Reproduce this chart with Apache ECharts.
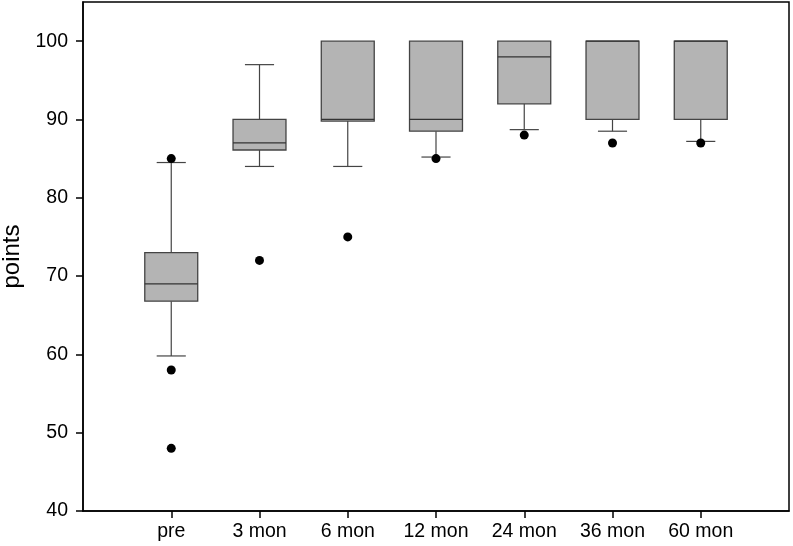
<!DOCTYPE html>
<html>
<head>
<meta charset="utf-8">
<script src="https://cdn.jsdelivr.net/npm/echarts@6/dist/echarts.min.js"></script>
<style>html,body{margin:0;padding:0;background:#fff;}#c{width:793px;height:546px;}</style>
</head>
<body>
<div id="c"></div>
<script>
var categories = ['pre', '3 mon', '6 mon', '12 mon', '24 mon', '36 mon', '60 mon'];
var whiskerLow = [59.8, 84, 84, 85.2, 88.7, 88.5, 87.2];
var q1 = [66.8, 86.1, 89.8, 88.5, 92, 90, 90];
var median = [69, 87, 90, 90, 98, 100, 100];
var q3 = [73, 90, 100, 100, 100, 100, 100];
var whiskerHigh = [84.5, 97, 100, 100, 100, 100, 100];
var outlierCat = [0, 0, 0, 1, 2, 3, 4, 5, 6];
var outlierVal = [85, 58, 48, 72, 75, 85, 88, 87, 87];
var yTicks = [40, 50, 60, 70, 80, 90, 100];

var boxData = categories.map(function (c, i) {
  return [i + 1, whiskerLow[i], q1[i], median[i], q3[i], whiskerHigh[i]];
});
var outlierData = outlierCat.map(function (c, i) { return [c + 1, outlierVal[i]]; });
var xTicks = categories.map(function (c, i) { return i + 1; });

var chart = echarts.init(document.getElementById('c'), null, {renderer: 'canvas'});
var FONT = 'Liberation Sans, Arial, sans-serif';
chart.setOption({
  animation: false,
  grid: {left: 83, right: 4, top: 2, bottom: 35, containLabel: false, outerBoundsMode: 'none',
    show: true, borderColor: '#000', borderWidth: 1.5, backgroundColor: 'transparent'},
  xAxis: {
    type: 'value', min: 0, max: 8, interval: 1,
    splitLine: {show: false},
    axisLine: {show: true, lineStyle: {color: '#000', width: 1.5}},
    axisTick: {show: true, length: 7, customValues: xTicks, lineStyle: {color: '#000', width: 1.5}},
    axisLabel: {customValues: xTicks, color: '#000', fontSize: 19.5, fontFamily: FONT, margin: 11,
      formatter: function (v) { return categories[Math.round(v) - 1] || ''; }}
  },
  yAxis: {
    type: 'value', min: 40, max: 105, interval: 10,
    name: 'points', nameLocation: 'middle', nameGap: 49,
    nameTextStyle: {color: '#000', fontSize: 24, fontFamily: FONT},
    splitLine: {show: false},
    axisLine: {show: true, lineStyle: {color: '#000', width: 1.5}},
    axisTick: {show: true, length: 7, customValues: yTicks, lineStyle: {color: '#000', width: 1.5}},
    axisLabel: {customValues: yTicks, color: '#000', fontSize: 19.5, fontFamily: FONT, margin: 15}
  },
  series: [
    {
      type: 'custom',
      data: boxData,
      renderItem: function (params, api) {
        var x = api.value(0);
        var lo = api.coord([x, api.value(1)]);
        var b1 = api.coord([x, api.value(2)]);
        var md = api.coord([x, api.value(3)]);
        var b3 = api.coord([x, api.value(4)]);
        var hi = api.coord([x, api.value(5)]);
        var bl = api.coord([x - 0.3, 0])[0];
        var br = api.coord([x + 0.3, 0])[0];
        var cl = api.coord([x - 0.165, 0])[0];
        var cr = api.coord([x + 0.165, 0])[0];
        var cx = lo[0];
        var wStyle = {stroke: '#444', lineWidth: 1.2};
        var children = [];
        if (hi[1] < b3[1] - 0.5) {
          children.push({type: 'line', shape: {x1: cx, y1: b3[1], x2: cx, y2: hi[1]}, style: wStyle});
          children.push({type: 'line', shape: {x1: cl, y1: hi[1], x2: cr, y2: hi[1]}, style: wStyle});
        }
        children.push({type: 'line', shape: {x1: cx, y1: b1[1], x2: cx, y2: lo[1]}, style: wStyle});
        children.push({type: 'line', shape: {x1: cl, y1: lo[1], x2: cr, y2: lo[1]}, style: wStyle});
        children.push({type: 'rect', shape: {x: bl, y: b3[1], width: br - bl, height: b1[1] - b3[1]},
          style: {fill: '#b4b4b4', stroke: '#444', lineWidth: 1.3}});
        children.push({type: 'line', shape: {x1: bl, y1: md[1], x2: br, y2: md[1]}, style: {stroke: '#333', lineWidth: 1.3}});
        return {type: 'group', children: children};
      },
      z: 2
    },
    {
      type: 'scatter',
      data: outlierData,
      symbol: 'circle',
      symbolSize: 9,
      itemStyle: {color: '#000', opacity: 1},
      z: 5
    }
  ]
});
</script>
</body>
</html>
